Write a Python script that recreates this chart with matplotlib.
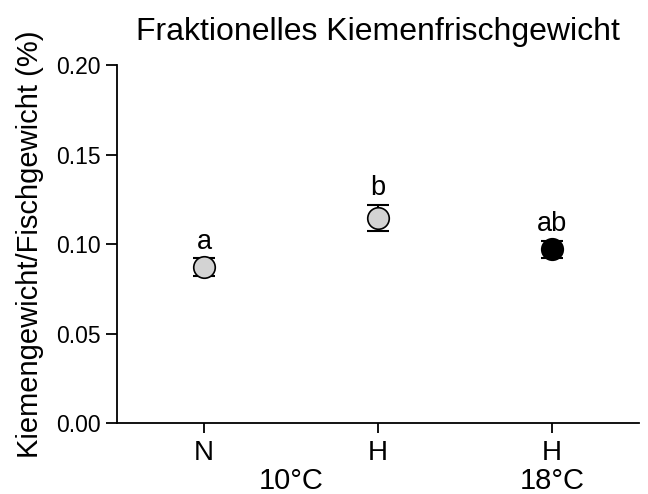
import numpy as np
import matplotlib
matplotlib.use("Agg")
import matplotlib.pyplot as plt
import matplotlib.transforms as mtransforms

plt.rcParams['font.family'] = ['Liberation Sans', 'DejaVu Sans']

# data
groups = ['N', 'H', 'H']
temps = ['10°C', '18°C']
temp_pos = [0.5, 2.0]
means = [0.087, 0.1145, 0.097]
sems = [0.005, 0.0075, 0.0047]
letters = ['a', 'b', 'ab']
fills = ['#d3d3d3', '#d3d3d3', 'black']

fig = plt.figure(figsize=(6.48, 4.94), dpi=100)
ax = fig.add_axes([117 / 648, 71 / 494, 522 / 648, 358 / 494])

x = np.arange(len(groups))

# Fehlerbalken zuerst, Marker drüber
ax.errorbar(x, means, yerr=sems, fmt='none', ecolor='black', elinewidth=1.5,
            capsize=8, capthick=1.5, zorder=2)
for xi, m, c in zip(x, means, fills):
    ax.plot(xi, m, 'o', ms=15.5, mfc=c, mec='black', mew=1.2, zorder=3)

# Signifikanzbuchstaben
for xi, m, s, t in zip(x, means, sems, letters):
    ax.annotate(t, (xi, m + s), xytext=(0, 7), textcoords='offset points',
                ha='center', va='baseline', fontsize=19.5)

ax.set_xlim(-0.5, 2.5)
ax.set_ylim(0, 0.2)
ax.set_yticks([0.0, 0.05, 0.10, 0.15, 0.20])
ax.set_yticklabels(['0.00', '0.05', '0.10', '0.15', '0.20'])
ax.set_xticks(x)
ax.set_xticklabels(groups)

ax.spines['top'].set_visible(False)
ax.spines['right'].set_visible(False)
for sp in ['left', 'bottom']:
    ax.spines[sp].set_linewidth(1.3)
ax.tick_params(axis='y', length=8, width=1.3, pad=3.5, labelsize=16.5)
ax.tick_params(axis='x', length=7, width=1.3, pad=5, labelsize=20)

# Temperaturen unter den Gruppen
trans = mtransforms.blended_transform_factory(ax.transData, ax.transAxes)
for p, t in zip(temp_pos, temps):
    ax.text(p, -0.184, t, transform=trans, ha='center', va='baseline', fontsize=21)

ax.set_ylabel('Kiemengewicht/Fischgewicht (%)', fontsize=21)
ax.yaxis.set_label_coords(-0.14, 0.5)
ax.set_title('Fraktionelles Kiemenfrischgewicht', fontsize=23, pad=18)

fig.savefig('out.png', dpi=100)
